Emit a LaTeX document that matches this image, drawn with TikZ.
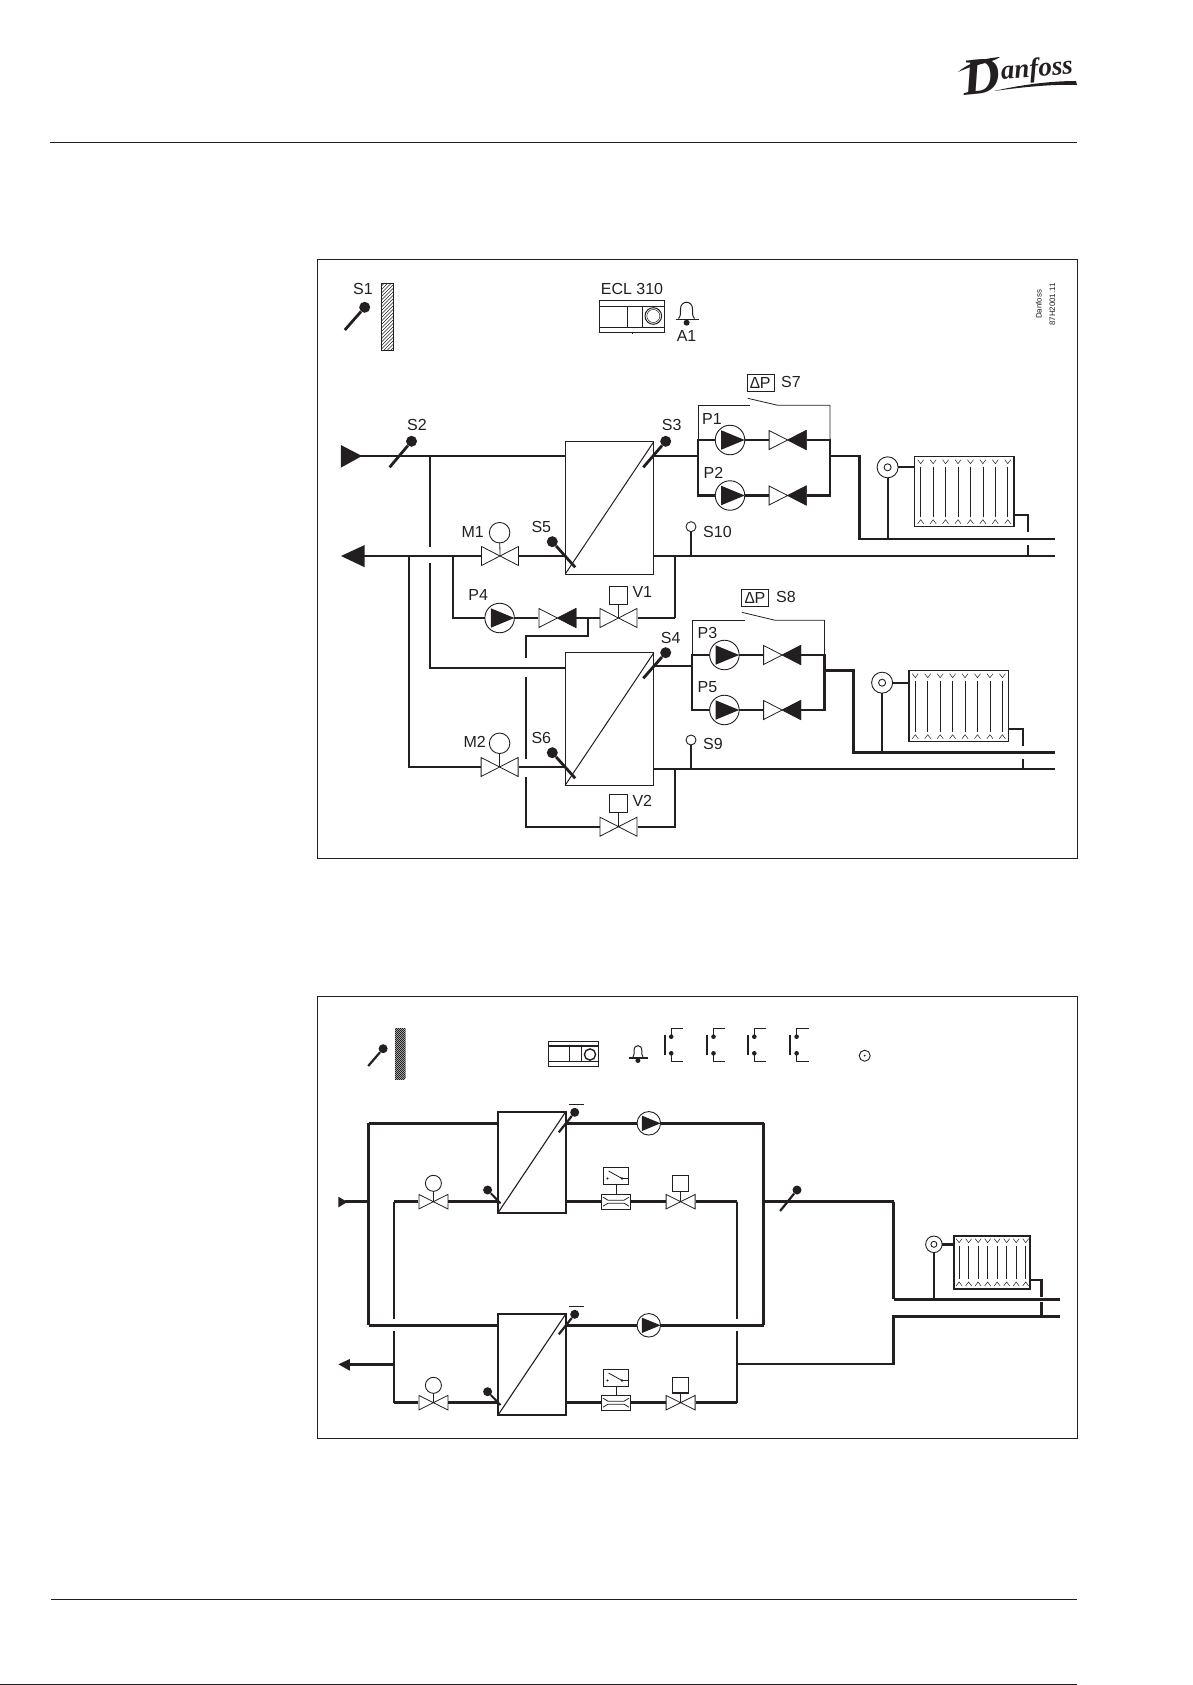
\documentclass[tikz,border=0pt]{standalone}
\usepackage{fontspec}
\setmainfont{Liberation Sans}
\newfontfamily\logofont{Liberation Serif}
\usepackage{tikz}
\definecolor{ink}{HTML}{231F20}
\newcommand{\ppbb}{path picture bounding box}
\newcommand{\valvecross}{\draw[wire] ([xshift=.5pt,yshift=.5pt]\ppbb.south west) -- ([xshift=-.5pt,yshift=-.5pt]\ppbb.north east)
      -- ([xshift=-.5pt,yshift=.5pt]\ppbb.south east) -- ([xshift=.5pt,yshift=-.5pt]\ppbb.north west) -- cycle;}
\tikzset{
  pipe/.style={line width=2.7pt,ink},
  thinpipe/.style={line width=2pt,ink},
  bigpipe/.style={line width=3.4pt,ink},
  wire/.style={line width=0.8pt,ink},
  stem/.style={line width=2.8pt,ink},
  tag/.style={inner sep=0pt,font=\fontsize{16}{18}\selectfont,text=ink},
  blank/.style={inner sep=0pt,outer sep=0pt,fill=white},
  hxbig/.style={blank,draw=ink,line width=1pt,minimum width=88.6pt,minimum height=132.4pt,
    path picture={\draw[wire,line width=1pt] (\ppbb.south west) -- (\ppbb.north east);}},
  hxsmall/.style={blank,draw=ink,line width=1.6pt,minimum width=67.7pt,minimum height=101pt,
    path picture={\draw[wire,line width=1.1pt] (\ppbb.south west) -- (\ppbb.north east);}},
  valve/.style={blank,minimum width=#1pt,minimum height=20pt,path picture={\valvecross}},
  valve/.default=38,
  checkvalve/.style={blank,minimum width=38pt,minimum height=20pt,
    path picture={\valvecross\fill[ink] (\ppbb.center) -- (\ppbb.north east) -- (\ppbb.south east) -- cycle;}},
  pump/.style={blank,circle,draw=ink,line width=0.9pt,minimum size=#1pt,
    path picture={\fill[ink] (\ppbb.east) -- ([xshift=-0.3*#1,yshift=0.33*#1]\ppbb.center) -- ([xshift=-0.3*#1,yshift=-0.33*#1]\ppbb.center) -- cycle;}},
  motor/.style={blank,circle,draw=ink,line width=0.9pt,minimum size=#1pt},
  actbox/.style={blank,draw=ink,line width=1pt,minimum width=#1pt,minimum height=18pt},
  dpbox/.style={blank,draw=ink,line width=0.8pt,minimum width=27pt,minimum height=16.5pt,font=\fontsize{16}{18}\selectfont,text=ink},
  bulb/.style={circle,fill=ink,inner sep=0pt,minimum size=#1pt},
  bulb/.default=11,
  probe/.style={blank,circle,draw=ink,line width=0.9pt,minimum size=10pt},
  meter/.style={blank,draw=ink,line width=1.4pt,minimum width=29pt,minimum height=15pt,
    path picture={
      \draw[wire] ([xshift=-13pt,yshift=4.5pt]\ppbb.center) -- ([xshift=-8pt,yshift=1.5pt]\ppbb.center) -- ([xshift=8pt,yshift=1.5pt]\ppbb.center) -- ([xshift=13pt,yshift=4.5pt]\ppbb.center);
      \draw[wire] ([xshift=-13pt,yshift=-4.5pt]\ppbb.center) -- ([xshift=-8pt,yshift=-1.5pt]\ppbb.center) -- ([xshift=8pt,yshift=-1.5pt]\ppbb.center) -- ([xshift=13pt,yshift=-4.5pt]\ppbb.center);}},
  meterhead/.style={blank,draw=ink,line width=1pt,minimum width=25pt,minimum height=17.5pt,
    path picture={
      \draw[wire] ([xshift=-7.5pt,yshift=5pt]\ppbb.center) -- ([xshift=6pt,yshift=-2.5pt]\ppbb.center) -- ([xshift=12pt,yshift=-2.5pt]\ppbb.center);
      \fill[ink] ([xshift=6pt,yshift=-2.5pt]\ppbb.center) circle (1.3pt);
      \fill[ink] ([xshift=-8.5pt,yshift=-2.5pt]\ppbb.center) circle (1.2pt);}},
  radiator/.style 2 args={blank,draw=ink,line width=1.2pt,minimum width=#1pt,minimum height=#2pt,
    path picture={
      \foreach \i in {0,...,7}{
        \pgfmathsetmacro{\tx}{(\i+0.5)*#1/8}
        \draw[wire,line width=0.5pt] ([xshift=\tx pt-3pt,yshift=-3pt]\ppbb.north west) -- ([xshift=\tx pt,yshift=-7pt]\ppbb.north west) -- ([xshift=\tx pt+3pt,yshift=-3pt]\ppbb.north west);
        \draw[wire,line width=0.5pt] ([xshift=\tx pt-3pt,yshift=3pt]\ppbb.south west) -- ([xshift=\tx pt,yshift=7pt]\ppbb.south west) -- ([xshift=\tx pt+3pt,yshift=3pt]\ppbb.south west);
        \draw[wire,line width=0.6pt] ([xshift=\tx pt,yshift=-10pt]\ppbb.north west) -- ([xshift=\tx pt,yshift=10pt]\ppbb.south west);
      }}}
}
\begin{document}
\begin{tikzpicture}[x=1pt,y=-1pt]
\useasboundingbox (0,0) rectangle (1192,1685);

% page rules and logo
\draw[ink,line width=1.2pt] (50,142.7) -- (1077,142.7);
\draw[ink,line width=1.2pt] (51,1599.3) -- (1077,1599.3);
\draw[ink,line width=1.4pt] (0,1684.2) -- (1077,1684.2);
\node[inner sep=0pt,rotate=6,text=ink] (logoD) at (981,77) {\logofont\bfseries\itshape\fontsize{52}{52}\selectfont D};
\node[inner sep=0pt,rotate=5,text=ink] (logo) at (1037,70) {\logofont\bfseries\itshape\fontsize{27}{27}\selectfont anfoss};
\fill[ink] (958,72) .. controls (972,60) and (990,58) .. (1000,57) .. controls (992,63) and (975,64) .. (958,72);
\fill[ink] (994,91) .. controls (1030,86) and (1060,84) .. (1077,85) -- (1076,81) .. controls (1050,81) and (1020,85) .. (994,91);

% frames
\node[draw=ink,line width=1pt,minimum width=760pt,minimum height=599pt,inner sep=0pt] (frameA) at (697.5,558.8) {};
\node[draw=ink,line width=1pt,minimum width=760pt,minimum height=442pt,inner sep=0pt] (frameB) at (697.5,1217) {};

%%%% upper diagram
\node[tag] (tS1) at (363,289) {S1};
\node[bulb] (S1) at (364.7,307.3) {};
\coordinate (S1e) at (344.8,330);
\draw[stem] (S1) -- (S1e);
\begin{scope}
\clip (381.6,283.3) rectangle (393.6,350);
\foreach \k in {0,3.5,...,81} \draw[ink,line width=0.45pt] (381,283+\k) -- (394,270+\k);
\end{scope}
\draw[ink,line width=0.5pt] (381.6,283.3) rectangle (393.6,350);

\node[tag] (tECL) at (632,289) {ECL 310};
\node[draw=ink,line width=0.9pt,fill=white,minimum width=65pt,minimum height=32pt,inner sep=0pt] (ctrlA) at (632,316.7) {};
\draw[wire] (599.5,306) -- (664.7,306);
\draw[wire] (599.5,327.3) -- (664.7,327.3);
\draw[wire,line width=0.5pt] (627,306) -- (627,327.3);
\draw[wire,line width=1pt] (642.3,306) -- (642.3,327.3);
\draw[wire,line width=1pt] (653.3,316) circle (8.3pt);
\draw[wire,line width=0.5pt] (653.3,316) circle (6.5pt);
\draw[wire,line width=1pt] (632,332.7) -- (632,334);

\draw[wire,line width=1pt] (678.5,318.5) .. controls (681,316) and (680.5,312) .. (680.5,309) .. controls (680.5,300) and (692.5,300) .. (692.5,309) .. controls (692.5,312) and (692,316) .. (694.5,318.5);
\draw[wire,line width=1pt] (675.7,319.3) -- (699,319.3);
\node[bulb=6] (A1) at (686.6,322.7) {};
\node[tag] (tA1) at (686.6,336) {A1};
\node[inner sep=0pt,rotate=90,align=center,text=ink,font=\fontsize{7.9}{13.5}\selectfont] (code) at (1045.5,304.5) {Danfoss\\87H2001.11};

% exchangers
\node[hxbig] (hx1) at (609.5,507.9) {};
\node[hxbig] (hx2) at (609.5,719) {};

% supply side
\coordinate (inTip) at (358,456);
\fill[ink] (362,456) -- (340.8,445) -- (340.8,467.7) -- cycle;
\draw[pipe] (inTip) -- (inTip -| hx1.west);
\coordinate (a1) at (430.4,456);
\coordinate (a2) at (430.4,546.7);
\coordinate (a3) at (430.4,563.3);
\coordinate (a4) at (430.4,667.7);
\draw[thinpipe] (a1) -- (a2);
\draw[thinpipe] (a3) -- (a4) -- (a4 -| hx2.west);

% return side
\coordinate (retTip) at (350,556);
\fill[ink] (341,556) -- (364.7,545) -- (364.7,567.3) -- cycle;
\node[valve] (vM1) at (500,556) {};
\node[motor=20.5] (M1) at (499.6,532.7) {};
\draw[wire] (M1) -- (vM1.center);
\node[tag] (tM1) at (472.7,531.7) {M1};
\draw[pipe] (retTip) -- (vM1);
\draw[pipe] (vM1) -- (vM1 -| hx1.west);
\coordinate (retEnd) at (1054.8,556);
\draw[pipe] (retEnd -| hx1.east) -- (retEnd);

\node[valve] (vM2) at (499.6,767) {};
\node[motor=20.5] (M2) at (499.6,743.3) {};
\draw[wire] (M2) -- (vM2.center);
\node[tag] (tM2) at (474.7,742.3) {M2};
\coordinate (b1) at (408.5,556);
\coordinate (b2) at (408.5,767);
\draw[thinpipe] (b1) -- (b2) -- (vM2);
\draw[pipe] (vM2) -- (vM2 -| hx2.west);
\coordinate (ret2End) at (1054.8,769);
\draw[pipe] (ret2End -| hx2.east) -- (ret2End);

% bypass with P4 and V1
\node[pump=29.5] (P4) at (499.6,618) {};
\node[tag] (tP4) at (478.2,595) {P4};
\node[checkvalve] (cP4) at (557.4,618) {};
\node[valve] (vV1) at (618.5,618) {};
\node[actbox=18] (V1) at (618.5,595) {};
\draw[wire] (V1) -- (vV1.center);
\node[tag] (tV1) at (642.3,592.3) {V1};
\coordinate (c1) at (452.8,556);
\coordinate (c2) at (452.8,618);
\coordinate (d1) at (674.7,556);
\coordinate (d2) at (674.7,618);
\draw[thinpipe] (c1) -- (c2) -- (P4);
\draw[pipe] (P4) -- (cP4);
\draw[pipe] (cP4) -- (vV1);
\draw[pipe] (vV1) -- (d2);
\draw[thinpipe] (d2) -- (d1);

\node[valve] (vV2) at (618.5,826.7) {};
\node[actbox=18] (V2) at (618.5,803.3) {};
\draw[wire] (V2) -- (vV2.center);
\node[tag] (tV2) at (642.3,800.7) {V2};
\coordinate (e1) at (587.6,618);
\coordinate (e2) at (587.6,636);
\coordinate (e3) at (526.4,636);
\coordinate (e4) at (526.4,658.3);
\coordinate (e5) at (526.4,677.3);
\coordinate (e6) at (526.4,759);
\coordinate (e7) at (526.4,776.7);
\coordinate (e8) at (526.4,826.7);
\coordinate (f1) at (674.7,826.7);
\coordinate (f2) at (674.7,769);
\draw[thinpipe] (e1) -- (e2) -- (e3) -- (e4);
\draw[thinpipe] (e5) -- (e6);
\draw[thinpipe] (e7) -- (e8) -- (vV2);
\draw[thinpipe] (vV2) -- (f1) -- (f2);

% sensors
\node[bulb] (S2) at (411.5,441.3) {};
\coordinate (S2e) at (389.6,467.3);
\draw[stem] (S2) -- (S2e);
\node[tag] (tS2) at (417,425) {S2};
\node[bulb] (S3) at (665.7,441.3) {};
\coordinate (S3e) at (643.3,467.3);
\draw[stem] (S3) -- (S3e);
\node[tag] (tS3) at (671.7,425) {S3};
\node[bulb] (S4) at (665.7,652.7) {};
\coordinate (S4e) at (643.3,678.3);
\draw[stem] (S4) -- (S4e);
\node[tag] (tS4) at (670.7,637.7) {S4};
\node[bulb] (S5) at (552.3,541.7) {};
\coordinate (S5e) at (575.2,567.3);
\draw[stem] (S5) -- (S5e);
\node[tag] (tS5) at (541.3,526.7) {S5};
\node[bulb] (S6) at (552.3,752.7) {};
\coordinate (S6e) at (575.2,778.3);
\draw[stem] (S6) -- (S6e);
\node[tag] (tS6) at (541.3,737.7) {S6};
\node[probe] (S10) at (691,526.7) {};
\draw[thinpipe] (S10) -- (S10 |- retEnd);
\node[tag,anchor=west] (tS10) at (703,531.7) {S10};
\node[probe] (S9) at (691,740) {};
\draw[thinpipe] (S9) -- (S9 |- ret2End);
\node[tag,anchor=west] (tS9) at (703,744.3) {S9};

% pump group one
\node[pump=29.5] (P1) at (730,440) {};
\node[pump=29.5] (P2) at (730,495.5) {};
\node[tag] (tP1) at (712,419) {P1};
\node[tag] (tP2) at (713.5,472.7) {P2};
\node[checkvalve] (cP1) at (787.6,440) {};
\node[checkvalve] (cP2) at (787.6,495.5) {};
\coordinate (m1) at (698,456);
\coordinate (ml1) at (698,440);
\coordinate (ml2) at (698,495.5);
\coordinate (mr1) at (830,440);
\coordinate (mr2) at (830,495.5);
\coordinate (m2) at (830,456);
\coordinate (m3) at (859.3,456);
\coordinate (m4) at (859.3,539);
\coordinate (m5) at (1054.8,539);
\draw[pipe] (m1 -| hx1.east) -- (m1);
\draw[pipe] (P1) -- (ml1) -- (ml2) -- (P2);
\draw[pipe] (P1) -- (cP1);
\draw[pipe] (P2) -- (cP2);
\draw[pipe] (cP1) -- (mr1) -- (mr2) -- (cP2);
\draw[pipe] (m2) -- (m3) -- (m4) -- (m5);
\node[dpbox] (dpA) at (760.4,383) {{\itshape ∆}P};
\node[tag] (tS7) at (791,382.3) {S7};
\draw[wire] (ml1) -- (698,405.3) -- (750.3,405.3);
\draw[wire] (747.8,398.3) -- (777.7,405.3) -- (830,405.3) -- (mr1);

\node[motor=21] (hA) at (887.6,467.3) {};
\node[motor=7] (hAi) at (887.6,467.3) {};
\node[radiator={99.5}{70}] (radA) at (964.2,491.7) {};
\coordinate (hAb) at (887.6,539);
\draw[thinpipe] (hA) -- (hAb);
\draw[thinpipe] (hA) -- (hA -| radA.west);
\coordinate (radAa) at (1014,515);
\coordinate (radAb) at (1027.9,515);
\coordinate (radAc) at (1027.9,531.7);
\coordinate (radAd) at (1027.9,545);
\draw[thinpipe] (radAa) -- (radAb) -- (radAc);
\draw[thinpipe] (radAd) -- (radAd |- retEnd);

% pump group two
\node[pump=29.5] (P3) at (724.4,655) {};
\node[pump=29.5] (P5) at (724.4,710) {};
\node[tag] (tP3) at (707.5,633.3) {P3};
\node[tag] (tP5) at (707.5,687) {P5};
\node[checkvalve] (cP3) at (782.1,655) {};
\node[checkvalve] (cP5) at (782.1,710) {};
\coordinate (n1) at (692,666);
\coordinate (nl1) at (692,655);
\coordinate (nl2) at (692,710);
\coordinate (nr1) at (824.4,655);
\coordinate (nr2) at (824.4,710);
\coordinate (n2) at (824.4,670.7);
\coordinate (n3) at (853.8,670.7);
\coordinate (n4) at (853.8,752.7);
\coordinate (n5) at (1054.8,752.7);
\draw[pipe] (n1 -| hx2.east) -- (n1);
\draw[pipe] (P3) -- (nl1) -- (nl2) -- (P5);
\draw[pipe] (P3) -- (cP3);
\draw[pipe] (P5) -- (cP5);
\draw[pipe] (cP3) -- (nr1) -- (nr2) -- (cP5);
\draw[pipe] (n2) -- (n3) -- (n4) -- (n5);
\node[dpbox] (dpB) at (755,598) {{\itshape ∆}P};
\node[tag] (tS8) at (786,596.7) {S8};
\draw[wire] (nl1) -- (692,620) -- (745,620);
\draw[wire] (741.8,612.3) -- (775.2,620.3) -- (824.4,620.3) -- (nr1);

\node[motor=21] (hB) at (882.1,682.7) {};
\node[motor=7] (hBi) at (882.1,682.7) {};
\node[radiator={99.5}{71}] (radB) at (958.8,706.2) {};
\coordinate (hBb) at (882.1,752.7);
\draw[thinpipe] (hB) -- (hBb);
\draw[thinpipe] (hB) -- (hB -| radB.west);
\coordinate (radBa) at (1008.5,729.3);
\coordinate (radBb) at (1023,729.3);
\coordinate (radBc) at (1023,746);
\coordinate (radBd) at (1023,759);
\draw[thinpipe] (radBa) -- (radBb) -- (radBc);
\draw[thinpipe] (radBd) -- (radBd |- ret2End);

%%%% lower diagram
\node[bulb=9] (Q1) at (383.1,1048.7) {};
\coordinate (Q1e) at (368.2,1066);
\draw[stem,line width=2.2pt] (Q1) -- (Q1e);
\begin{scope}
\clip (395,1028.3) rectangle (405.5,1079.3);
\foreach \k in {0,2,...,60} \draw[ink,line width=0.9pt] (394,1029+\k) -- (406,1017+\k);
\end{scope}

\node[draw=ink,line width=1.4pt,fill=white,minimum width=50.3pt,minimum height=25pt,inner sep=0pt] (ctrlB) at (573.4,1054.2) {};
\draw[wire,line width=1.2pt] (548.3,1046) -- (598.6,1046);
\draw[wire,line width=1.2pt] (548.3,1061.7) -- (598.6,1061.7);
\draw[wire] (569.7,1046) -- (569.7,1061.7);
\draw[wire] (581.6,1046) -- (581.6,1061.7);
\draw[wire,line width=1.4pt] (590,1054.5) circle (5.6pt);

\draw[wire,line width=1pt] (633,1057) .. controls (634.5,1055) and (634,1053) .. (634,1050.5) .. controls (634,1044) and (641.8,1044) .. (641.8,1050.5) .. controls (641.8,1053) and (641.3,1055) .. (643,1057);
\draw[wire,line width=2pt] (629,1058.3) -- (647.8,1058.3);
\node[bulb=5] (B1) at (637.9,1060.5) {};

\foreach \x in {664.7,707,747.8,790.1}{
  \draw[wire,line width=1.6pt] (\x,1035) -- (\x,1055);
  \fill[ink] (\x+6.5,1036.7) circle (2.3pt) (\x+6.5,1053.3) circle (2.3pt);
  \draw[wire] (\x+18.4,1028.3) -- (\x+6.5,1028.3) -- (\x+6.5,1036.7);
  \draw[wire] (\x+6.5,1053.3) -- (\x+6.5,1061.7) -- (\x+18.4,1061.7);
}
\node[motor=11] (roomB) at (864.7,1055.7) {};
\fill[ink] (roomB.center) circle (1pt);

\node[hxsmall] (hxA) at (531.9,1162.2) {};
\node[hxsmall] (hxB) at (531.9,1364.5) {};

% outer loop
\node[pump=23.5] (PA) at (648.8,1123.3) {};
\node[pump=23.5] (PB) at (648.8,1325.3) {};
\coordinate (q1) at (368.7,1123.3);
\coordinate (q2) at (368.7,1325.3);
\coordinate (q3) at (763.7,1123.3);
\coordinate (q4) at (763.7,1325.3);
\draw[bigpipe] (hxA.west |- q1) -- (q1);
\draw[thinpipe,line width=2.6pt] (q1) -- (q2);
\draw[bigpipe,line width=2.8pt] (q2) -- (q2 -| hxB.west);
\draw[bigpipe] (q1 -| hxA.east) -- (PA);
\draw[bigpipe] (PA) -- (q3);
\draw[thinpipe,line width=2.6pt] (q3) -- (q4);
\draw[bigpipe,line width=2.8pt] (q4) -- (PB);
\draw[bigpipe,line width=2.8pt] (PB) -- (q2 -| hxB.east);

% inlet and outlet
\coordinate (inB) at (345,1201.7);
\fill[ink] (338.4,1196.7) -- (347.3,1202) -- (338.4,1207.3) -- cycle;
\draw[bigpipe] (inB) -- (inB -| q1);
\coordinate (outB) at (349,1364.3);
\fill[ink] (338.4,1364.3) -- (349.8,1359) -- (349.8,1370.7) -- cycle;

% branch A
\node[valve=30,minimum height=15.5pt] (vQA) at (433.4,1201.7) {};
\node[motor=16] (MA) at (433.4,1183.3) {};
\draw[wire,line width=1pt] (MA) -- (vQA.center);
\node[meter] (FA) at (616,1201.7) {};
\node[meterhead] (HA) at (616,1176) {};
\draw[wire,line width=1pt] (HA) -- (FA);
\node[valve=30,minimum height=15.5pt] (vRA) at (680.6,1201.7) {};
\node[actbox=16,minimum height=15.6pt,line width=1.1pt] (AA) at (680.6,1183.5) {};
\draw[wire,line width=1pt] (AA) -- (vRA.center);
\coordinate (r1) at (393.6,1201.7);
\coordinate (r2) at (393.6,1319.3);
\coordinate (r3) at (393.6,1331);
\coordinate (r4) at (393.6,1402.7);
\coordinate (r5) at (737.4,1201.7);
\coordinate (r6) at (737.4,1319.3);
\coordinate (r7) at (737.4,1331);
\coordinate (r8) at (737.4,1402.7);
\draw[bigpipe] (r1) -- (vQA);
\draw[thinpipe] (r1) -- (r2);
\draw[bigpipe] (vQA) -- (vQA -| hxA.west);
\draw[bigpipe] (vQA -| hxA.east) -- (FA);
\draw[bigpipe] (FA) -- (vRA);
\draw[bigpipe] (vRA) -- (r5);
\draw[thinpipe] (r5) -- (r6);

% branch B
\node[valve=30,minimum height=15.5pt] (vQB) at (433.4,1402.7) {};
\node[motor=16] (MB) at (433.4,1385.3) {};
\draw[wire,line width=1pt] (MB) -- (vQB.center);
\node[meter] (FB) at (616,1402.7) {};
\node[meterhead] (HB) at (616,1378) {};
\draw[wire,line width=1pt] (HB) -- (FB);
\node[valve=30,minimum height=15.5pt] (vRB) at (680.6,1402.7) {};
\node[actbox=16,minimum height=15.6pt,line width=1.1pt] (AB) at (680.6,1385.2) {};
\draw[wire,line width=1pt] (AB) -- (vRB.center);
\draw[thinpipe] (r3) -- (r4);
\draw[pipe] (r4) -- (vQB);
\draw[pipe] (vQB) -- (vQB -| hxB.west);
\draw[pipe] (vQB -| hxB.east) -- (FB);
\draw[pipe] (FB) -- (vRB);
\draw[pipe] (vRB) -- (r8);
\draw[thinpipe] (r7) -- (r8);
\draw[pipe] (outB) -- (outB -| r3);

% heating side
\coordinate (u1) at (893.6,1201.7);
\coordinate (u2) at (893.6,1299.3);
\coordinate (u3) at (1059.7,1299.3);
\coordinate (w1) at (737.4,1364);
\coordinate (w2) at (893.6,1364);
\coordinate (w3) at (893.6,1316.3);
\coordinate (w4) at (1059.7,1316.3);
\draw[bigpipe] (q3 |- u1) -- (u1);
\draw[thinpipe,line width=2.6pt] (u1) -- (u2);
\draw[bigpipe,line width=2.8pt] (u2) -- (u3);
\draw[pipe] (w1) -- (w2) -- (w3) -- (w4);

\node[motor=16.5] (hC) at (933.9,1244.3) {};
\node[motor=6] (hCi) at (933.9,1244.3) {};
\node[radiator={76.1}{53.3},line width=2pt] (radC) at (992.4,1262.3) {};
\coordinate (hCb) at (933.9,1299.3);
\draw[thinpipe] (hC) -- (hCb);
\draw[bigpipe,line width=2.6pt] (hC) -- (hC -| radC.west);
\coordinate (radCa) at (1030.4,1280);
\coordinate (radCb) at (1041.3,1280);
\coordinate (radCc) at (1041.3,1296.7);
\coordinate (radCd) at (1041.3,1302.3);
\draw[thinpipe,line width=2.4pt] (radCa) -- (radCb) -- (radCc);
\draw[thinpipe,line width=2.4pt] (radCd) -- (radCd |- w4);

% lower sensors
\node[bulb=9] (T1) at (574.7,1112.3) {};
\coordinate (T1e) at (558.8,1132.3);
\draw[stem,line width=2.2pt] (T1) -- (T1e);
\draw[wire,line width=0.9pt] (568.7,1104.3) -- (583.6,1104.3);
\node[bulb=9] (T2) at (574.7,1314.3) {};
\coordinate (T2e) at (558.8,1334.3);
\draw[stem,line width=2.2pt] (T2) -- (T2e);
\draw[wire,line width=0.9pt] (568.7,1306.7) -- (583.6,1306.7);
\node[bulb=9] (T3) at (487.6,1190) {};
\coordinate (T3e) at (500.5,1203.3);
\draw[stem,line width=2pt] (T3) -- (T3e);
\node[bulb=9] (T4) at (487.6,1391.7) {};
\coordinate (T4e) at (500.5,1405);
\draw[stem,line width=2pt] (T4) -- (T4e);
\node[bulb=9] (T5) at (797,1190) {};
\coordinate (T5e) at (780.1,1211);
\draw[stem,line width=2.2pt] (T5) -- (T5e);

\end{tikzpicture}
\end{document}
